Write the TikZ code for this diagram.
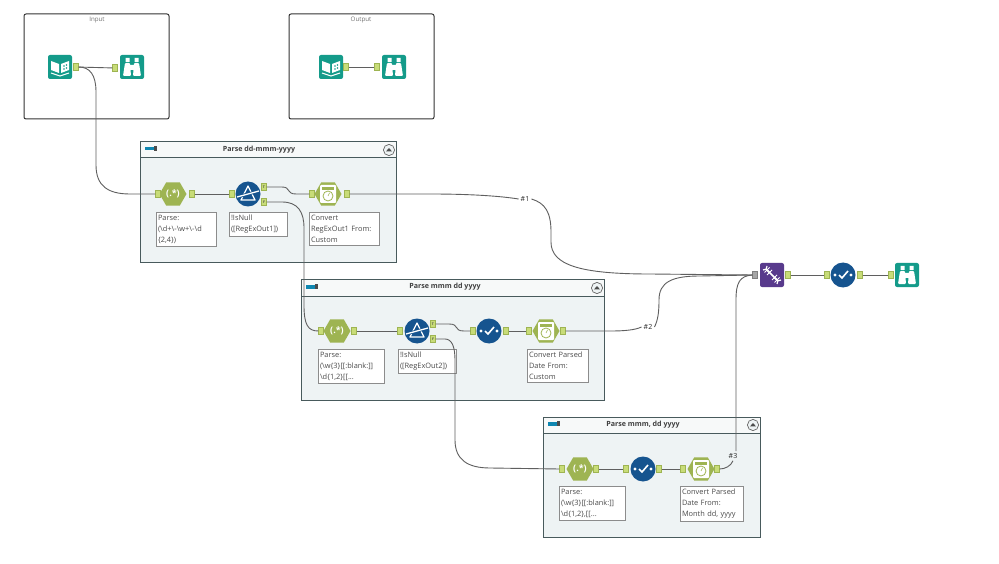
\documentclass[tikz,border=0pt]{standalone}
\usepackage{fontspec}
\setmainfont{Open Sans}
\definecolor{wfteal}{RGB}{20,155,138}
\definecolor{wfolive}{RGB}{158,180,82}
\definecolor{wfport}{RGB}{200,220,120}
\definecolor{wfblue}{RGB}{22,84,143}
\definecolor{wfpurple}{RGB}{88,58,140}
\definecolor{wfframe}{RGB}{72,90,92}
\definecolor{wfbody}{RGB}{238,243,244}
\definecolor{wfwire}{RGB}{95,95,95}
\definecolor{wftext}{RGB}{75,75,75}
\usetikzlibrary{positioning,calc,shapes.geometric}
\tikzset{
  plainbox/.style={draw=black!80,line width=1pt,rounded corners=2pt,fill=white,anchor=north west,minimum width=145pt,minimum height=105pt,inner sep=0pt,outer sep=0pt},
  framebox/.style={draw=wfframe,line width=1pt,fill=wfbody,anchor=north west,inner sep=0pt,outer sep=0pt},
  tealtool/.style={fill=wfteal,rounded corners=2pt,minimum size=24pt,inner sep=0pt},
  purpletool/.style={fill=wfpurple,rounded corners=2pt,minimum size=24pt,inner sep=0pt},
  bluetool/.style={fill=wfblue,circle,minimum size=25pt,inner sep=0pt},
  hextool/.style={fill=wfolive,regular polygon,regular polygon sides=6,minimum size=27pt,inner sep=0pt,text=white,font=\bfseries\fontsize{9}{9}\selectfont},
  port/.style={fill=wfport,draw=wfolive,line width=.3pt,minimum width=5pt,minimum height=7pt,inner sep=0pt,font=\bfseries\fontsize{3.5}{4}\selectfont,text=black!70},
  note/.style={draw=black!45,line width=.7pt,fill=white,anchor=north west,inner xsep=2pt,inner ysep=3pt,outer sep=0pt,align=left,text=wftext,font=\fontsize{7.4}{11}\selectfont},
  heading/.style={font=\bfseries\fontsize{7.1}{8}\selectfont,text=black!75},
  faint/.style={font=\fontsize{6.2}{8}\selectfont,text=black!55},
  tag/.style={font=\fontsize{7}{8}\selectfont,text=black!85,inner sep=2pt},
  wire/.style={draw=wfwire,line width=.9pt},
  bookmark/.pic={
    \fill[white] (-9,-6) -- (-1,-3) -- (-1,6) -- (-9,3) -- cycle;
    \fill[white] (1,-3) -- (9,-6) -- (9,3) -- (1,6) -- cycle;
    \fill[wfteal] (4,-1) circle (.9) (4,2) circle (.9) (6.5,-2) circle (.9) (6.5,1) circle (.9);
    \draw[white,line width=1pt] (-9,6) -- (0,9) -- (9,6);
  },
  scope/.pic={
    \fill[white,rounded corners=1pt] (-9,9) -- (-7,-4) -- (-2,-4) -- (-1,9) -- cycle;
    \fill[white,rounded corners=1pt] (9,9) -- (7,-4) -- (2,-4) -- (1,9) -- cycle;
    \fill[white] (-6.5,-9) rectangle (-2.5,-5) (2.5,-9) rectangle (6.5,-5) (-2,-2) rectangle (2,3);
  },
  sieve/.pic={
    \draw[white,line width=1.3pt,line join=round] (0,-8) -- (7,6) -- (-7,6) -- cycle;
    \draw[wfblue,line width=3pt] (-11,3) -- (11,-3);
    \draw[white,line width=1.3pt] (-11,3) -- (11,-3);
  },
  tick/.pic={
    \fill[white] (-8,0) circle (1.7) (8,0) circle (1.7);
    \draw[white,line width=1.6pt] (-4,0) -- (-1,3) -- (5,-4);
  },
  clock/.pic={
    \fill[white,rounded corners=1pt] (-8,-9) rectangle (8,9);
    \fill[wfolive] (-6,-7) rectangle (6,-4);
    \draw[wfolive,line width=.8pt] (0,2) circle (5);
    \draw[wfolive,line width=.6pt] (0,2) -- (1.5,-1);
  },
  helix/.pic={
    \draw[white,line width=1.2pt] (-9,-5) .. controls (-5,-8) and (-2,-2) .. (0,0) .. controls (2,2) and (5,8) .. (9,5);
    \draw[white,line width=1.2pt] (-5,-9) .. controls (-8,-5) and (-2,-2) .. (0,0) .. controls (2,2) and (8,5) .. (5,9);
    \foreach \t in {-5,-2.5,2.5,5} {\draw[white,line width=.8pt] (\t+2.5,\t-2.5) -- (\t-2.5,\t+2.5);}
  },
  barmark/.pic={
    \fill[wfblue!70!cyan] (0,0) rectangle (9,3.5);
    \fill[black!70] (9,-1) rectangle (12,4);
  },
  foldmark/.pic={
    \draw[black!60,line width=.7pt,fill=wfbody] (0,0) circle (5.6);
    \fill[black!70] (-3,1.4) -- (3,1.4) -- (0,-2) -- cycle;
  },
}
\begin{document}
\begin{tikzpicture}[x=1pt,y=-1pt]
\useasboundingbox (0,0) rectangle (999,564);
\fill[white] (0,0) rectangle (999,564);

% the two plain boxes on top
\node[plainbox] (inbox) at (24,14) {};
\node[plainbox] (outbox) at (289,14) {};
\node[faint] (inlabel) at (97,20) {Input};
\node[faint] (outlabel) at (361,20) {Output};

% the three parse containers
\node[framebox,minimum width=256pt,minimum height=121pt] (groupA) at (140,142) {};
\node[framebox,minimum width=303pt,minimum height=120pt] (groupB) at (301,280) {};
\node[framebox,minimum width=217pt,minimum height=120pt] (groupC) at (543,417) {};
\foreach \g in {groupA,groupB,groupC} {
  \fill[white!50!wfbody] ([xshift=.5pt,yshift=-.5pt]\g.north west) rectangle ([xshift=-.5pt,yshift=-16pt]\g.north east);
  \draw[wfframe,line width=1pt] ([yshift=-16pt]\g.north west) -- ([yshift=-16pt]\g.north east);
  \pic at ([xshift=5pt,yshift=-5pt]\g.north west) {barmark};
  \pic at ([xshift=-7pt,yshift=-8pt]\g.north east) {foldmark};
}
\node[heading] (titleA) at (259,150) {Parse dd-mmm-yyyy};
\node[heading] (titleB) at (445,287) {Parse mmm dd yyyy};
\node[heading] (titleC) at (643,425) {Parse mmm, dd yyyy};

% input box tools
\node[tealtool] (bookA) at (60,67) {}; \pic at (bookA) {bookmark};
\node[port] (bookAout) at (76,67) {};
\node[port] (scopeAin) at (115,68) {};
\node[tealtool] (scopeA) at (132,67) {}; \pic at (scopeA) {scope};

% output box tools
\node[tealtool] (bookB) at (331,67) {}; \pic at (bookB) {bookmark};
\node[port] (bookBout) at (346,67) {};
\node[port] (scopeBin) at (377,67) {};
\node[tealtool] (scopeB) at (394,67) {}; \pic at (scopeB) {scope};

% first container
\node[hextool] (regexA) at (173,194) {(.*)};
\node[port] (regexAin) at (158,194) {};
\node[port] (regexAout) at (192,194) {};
\node[bluetool] (filterA) at (248,194) {}; \pic at (filterA) {sieve};
\node[port] (filterAin) at (232,194) {};
\node[port] (filterAtrue) at (264,187) {T};
\node[port] (filterAfalse) at (264,202) {F};
\node[hextool] (dateA) at (328,194) {}; \pic at (dateA) {clock};
\node[port] (dateAin) at (312,194) {};
\node[port] (dateAout) at (347,194) {};
\node[note,text width=56pt] (noteAa) at (156,212) {Parse:\\(\textbackslash d+\textbackslash -\textbackslash w+\textbackslash -\textbackslash d\\\{2,4\})};
\node[note,text width=54pt] (noteAb) at (229,212) {!IsNull\\([RegExOut1])};
\node[note,text width=66pt] (noteAc) at (309,212) {Convert\\RegExOut1 From:\\Custom};

% second container
\node[hextool] (regexB) at (337,331) {(.*)};
\node[port] (regexBin) at (321,331) {};
\node[port] (regexBout) at (354,331) {};
\node[bluetool] (filterB) at (417,331) {}; \pic at (filterB) {sieve};
\node[port] (filterBin) at (400,331) {};
\node[port] (filterBtrue) at (433,324) {T};
\node[port] (filterBfalse) at (433,339) {F};
\node[bluetool] (cleanA) at (489,331) {}; \pic at (cleanA) {tick};
\node[port] (cleanAin) at (473,331) {};
\node[port] (cleanAout) at (506,331) {};
\node[hextool] (dateB) at (546,331) {}; \pic at (dateB) {clock};
\node[port] (dateBin) at (529,331) {};
\node[port] (dateBout) at (563,331) {};
\node[note,text width=62pt] (noteBa) at (318,349) {Parse:\\ (\textbackslash w\{3\}[[:blank:]]\\\textbackslash d\{1,2\}[[...};
\node[note,text width=54pt] (noteBb) at (398,349) {!IsNull\\([RegExOut2])};
\node[note,text width=57pt] (noteBc) at (527,349) {Convert Parsed\\Date From:\\Custom};

% third container
\node[hextool] (regexC) at (580,469) {(.*)};
\node[port] (regexCin) at (562,469) {};
\node[port] (regexCout) at (596,469) {};
\node[bluetool] (cleanB) at (643,469) {}; \pic at (cleanB) {tick};
\node[port] (cleanBin) at (626,469) {};
\node[port] (cleanBout) at (659,469) {};
\node[hextool] (dateC) at (701,469) {}; \pic at (dateC) {clock};
\node[port] (dateCin) at (683,469) {};
\node[port] (dateCout) at (717,469) {};
\node[note,text width=62pt] (noteCa) at (559,486) {Parse:\\(\textbackslash w\{3\}[[:blank:]]\\\textbackslash d\{1,2\},[[...};
\node[note,text width=59pt] (noteCb) at (680,486) {Convert Parsed\\Date From:\\Month dd, yyyy};

% union and what follows it
\node[purpletool] (joinA) at (772,275) {}; \pic at (joinA) {helix};
\node[port,fill=black!35,draw=black!50] (joinAin) at (755,275) {};
\node[port] (joinAout) at (788,275) {};
\node[bluetool] (cleanC) at (843,275) {}; \pic at (cleanC) {tick};
\node[port] (cleanCin) at (827,275) {};
\node[port] (cleanCout) at (860,275) {};
\node[port] (scopeCin) at (891,275) {};
\node[tealtool] (scopeC) at (907,275) {}; \pic at (scopeC) {scope};

\node[tag] (tagA) at (525,199) {\#1};
\node[tag] (tagB) at (648,327) {\#2};
\node[tag] (tagC) at (733,456) {\#3};

% straight wires
\draw[wire] (bookAout) -- (scopeAin);
\draw[wire] (bookBout) -- (scopeBin);
\draw[wire] (regexAout) -- (filterAin);
\draw[wire] (regexBout) -- (filterBin);
\draw[wire] (cleanAout) -- (dateBin);
\draw[wire] (regexCout) -- (cleanBin);
\draw[wire] (cleanBout) -- (dateCin);
\draw[wire] (joinAout) -- (cleanCin);
\draw[wire] (cleanCout) -- (scopeCin);

% curved wires
\draw[wire] (bookAout.east) .. controls (90,67) and (96,75) .. (96,92) -- (96,165) .. controls (96,186) and (108,194) .. (130,194) -- (regexAin.west);
\draw[wire] (filterAtrue.east) -- (282,187) .. controls (291,187) and (286,194) .. (296,194) -- (dateAin.west);
\draw[wire] (filterAfalse.east) -- (282,202) .. controls (298,202) and (304,212) .. (304,228) -- (304,305) .. controls (304,325) and (308,331) .. (regexBin.west);
\draw[wire] (filterBtrue.east) -- (449,324) .. controls (460,324) and (453,331) .. (464,331) -- (cleanAin.west);
\draw[wire] (filterBfalse.east) -- (445,339) .. controls (452,339) and (455,347) .. (455,360) -- (455,440) .. controls (455,460) and (468,468) .. (490,468) -- (regexCin.west);
\draw[wire] (dateAout.east) -- (430,194) .. controls (470,194) and (500,196) .. (tagA.west);
\draw[wire] (tagA.east) .. controls (545,203) and (551,212) .. (551,232) -- (551,242) .. controls (551,265) and (580,274) .. (650,274) -- (joinAin.west);
\draw[wire] (dateBout.east) -- (610,331) .. controls (625,331) and (635,330) .. (tagB.west);
\draw[wire] (tagB.east) .. controls (658,320) and (659,312) .. (659,300) .. controls (659,282) and (672,276) .. (700,276) -- (joinAin.west);
\draw[wire] (dateCout.east) .. controls (725,469) and (731,466) .. (tagC.south);
\draw[wire] (tagC.north) ++(3,0) -- (736,300) .. controls (736,282) and (740,276) .. (joinAin.west);
\end{tikzpicture}
\end{document}
